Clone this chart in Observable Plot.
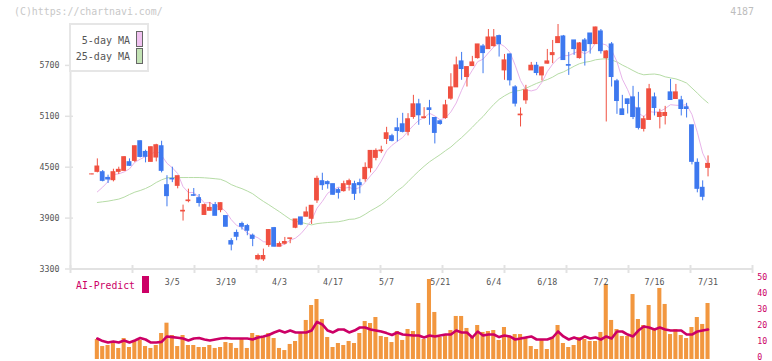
<!DOCTYPE html>
<html>
<head>
<meta charset="utf-8">
<script src="https://cdn.jsdelivr.net/npm/d3@7"></script>
<script src="https://cdn.jsdelivr.net/npm/@observablehq/plot@0.6"></script>
<style>
  body { margin: 0; background: #fff; }
  #wrap { position: relative; width: 772px; height: 361px; overflow: hidden; font-family: "DejaVu Sans Mono", monospace; }
  #wrap svg { position: absolute; left: 0; top: 0; background: transparent; }
  .lbl { position: absolute; white-space: nowrap; line-height: 12px; }
  .sw { position: absolute; box-sizing: border-box; }
</style>
</head>
<body>
<div id="wrap">
  <div class="lbl" style="left:14px;top:6px;font-size:9.9px;color:#c8c8c8;">(C)https://chartnavi.com/</div>
  <div class="lbl" style="right:18px;top:6px;font-size:9.9px;color:#bdbdbd;">4187</div>
  <div class="sw" style="left:69px;top:23px;width:80px;height:49px;border:2px solid #e6e6e6;background:#fff;"></div>
  <div class="lbl" style="right:642px;top:35px;font-size:10px;color:#555;">5-day MA</div>
  <div class="lbl" style="right:642px;top:51px;font-size:10px;color:#555;">25-day MA</div>
  <div class="sw" style="left:136px;top:31px;width:7px;height:16px;border:1px solid #666;background:#f0c2f0;"></div>
  <div class="sw" style="left:136px;top:48px;width:7px;height:16px;border:1px solid #666;background:#c3e3b5;"></div>
  <div class="lbl" style="left:76px;top:280px;font-size:9.8px;color:#cc0066;">AI-Predict</div>
  <div class="sw" style="left:142px;top:276px;width:7px;height:17px;background:#cc0066;"></div>
</div>
<script>
// Daily candles (oldest first)
const open = [4415,4445,4441,4374,4347,4445,4457,4559,4574,4806,4680,4563,4614,4747,4288,4362,4280,3978,4100,4170,4135,3937,3986,4053,3994,3924,3629,3725,3831,3806,3692,3414,3414,3582,3782,3563,3598,3655,3786,3908,3916,3892,4108,4335,4324,4300,4230,4218,4292,4300,4312,4359,4488,4610,4688,4833,4865,4959,5006,4916,5092,5241,5080,5194,5080,5041,5080,5308,5441,5747,5563,5692,5786,5923,5892,5927,6045,5641,5829,5441,5112,5288,5641,5696,5582,5720,5821,5963,6041,5704,5994,5786,5994,6076,5951,6100,5786,5947,5512,5182,5300,5323,5194,4951,5057,5323,5092,5104,5382,5304,5288,5206,4994,4551,4257,4492];
const high = [4420,4598,4461,4406,4476,4500,4625,4598,4750,4810,4700,4740,4770,4806,4400,4500,4394,4053,4241,4249,4178,4065,4084,4084,4080,3930,3657,3759,3853,3826,3712,3476,3535,3765,3790,3618,3672,3661,3884,3908,4029,4045,4394,4429,4339,4300,4253,4335,4359,4335,4359,4551,4692,4716,4747,4970,4888,5076,5135,5131,5347,5300,5202,5288,5084,5053,5288,5602,5798,5853,5680,5806,5947,5947,6123,6123,6057,5829,5833,5461,5198,5465,5735,5735,5680,5888,5994,6182,6053,5853,5994,5970,6017,6076,6150,6123,5876,5970,5535,5347,5300,5453,5382,5100,5476,5374,5182,5217,5535,5476,5335,5253,4994,4598,4339,4633];
const low = [4410,4433,4327,4308,4327,4414,4450,4510,4555,4610,4551,4560,4563,4433,4033,4318,4245,3865,4080,4155,4030,3937,3986,3927,3963,3795,3514,3633,3759,3692,3563,3398,3390,3555,3560,3563,3582,3598,3775,3810,3916,3825,4073,4226,4241,4170,4124,4206,4218,4108,4186,4324,4433,4575,4661,4767,4798,4798,4904,4869,5065,4994,5065,4994,4774,4994,5065,5288,5441,5524,5445,5692,5774,5602,5892,5916,5798,5524,5457,5210,4974,5241,5641,5578,5516,5716,5720,5963,5759,5582,5818,5774,5692,5833,5951,5833,5033,5445,5123,5115,5127,5061,4939,4915,5057,5104,4951,4998,5292,5300,5104,5080,4527,4198,4104,4386];
const close = [4415,4508,4339,4355,4441,4469,4618,4516,4747,4621,4622,4735,4759,4457,4159,4356,4394,3986,4108,4163,4078,4053,4020,3927,4076,3798,3588,3680,3798,3751,3655,3453,3453,3759,3563,3594,3618,3661,3884,3822,3967,4045,4363,4288,4300,4175,4198,4300,4335,4186,4288,4492,4692,4692,4696,4900,4810,4927,4916,5065,5241,5112,5088,5174,4904,5010,5229,5441,5700,5657,5680,5735,5947,5845,6029,6029,5951,5759,5524,5249,5120,5406,5696,5610,5676,5747,5845,6033,5763,5696,5892,5959,5868,5951,6147,5868,5864,5563,5280,5115,5245,5092,4963,5065,5418,5198,5139,5139,5292,5382,5186,5186,4563,4245,4151,4539];

// Moving averages
const ma5 = [null,4209,4265,4330,4412,4422,4444,4480,4558,4594,4625,4648,4697,4639,4546,4493,4425,4270,4201,4201,4146,4078,4084,4048,4031,3975,3882,3814,3788,3723,3694,3667,3622,3614,3577,3564,3597,3639,3664,3716,3790,3876,4016,4097,4193,4234,4265,4252,4262,4239,4261,4320,4399,4470,4572,4694,4758,4805,4850,4924,4992,5052,5084,5136,5104,5058,5081,5152,5257,5407,5541,5643,5744,5773,5847,5917,5960,5923,5858,5702,5521,5412,5399,5416,5502,5627,5715,5782,5813,5817,5846,5869,5836,5873,5963,5959,5940,5879,5744,5538,5413,5259,5139,5096,5156,5147,5156,5191,5237,5230,5228,5237,5121,4912,4666,4536];
const ma25 = [null,4084,4092,4100,4112,4124,4147,4178,4206,4225,4249,4280,4320,4351,4374,4378,4378,4378,4378,4378,4378,4375,4370,4364,4357,4332,4295,4269,4247,4219,4187,4140,4097,4058,4016,3975,3930,3886,3863,3850,3834,3820,3835,3842,3848,3852,3857,3869,3885,3889,3909,3945,3986,4021,4059,4109,4163,4222,4268,4329,4394,4454,4511,4563,4606,4648,4695,4738,4795,4849,4909,4971,5037,5097,5171,5240,5299,5341,5375,5397,5406,5430,5460,5488,5512,5533,5562,5600,5623,5655,5690,5720,5737,5747,5766,5774,5779,5764,5741,5704,5673,5639,5607,5589,5595,5598,5588,5565,5553,5541,5519,5492,5433,5373,5311,5257];

// Lower panel: bars and AI-Predict line (0-50 scale)
const volume = [null,12.5,8.1,8.75,10,6.9,13.1,7.5,11.25,11.9,8.1,6.9,8.75,16.25,22.7,15,8.1,15,8.75,8.75,7.5,7.5,8.75,6.9,7.5,10.6,10,6.9,12.5,6.9,16.25,15,14.4,16.25,13.1,6.9,5.6,9.4,11.25,16.25,24.4,33.75,37.5,25,13.75,7.5,10,8.75,11.25,10,16.25,23.75,22.5,26.25,14.4,13.75,10.6,17.5,11.9,18.75,17.5,35,12.5,50,29.4,13.75,15,18.1,26.9,26.9,19.4,14.4,21.25,16.9,17.5,18.1,11.9,20,13.75,15.6,15.6,13.1,8.1,6.25,11.9,6.25,13.75,21.25,10,7.5,8.75,13.75,12.5,11.25,11.25,16.9,46.9,24.4,18.75,14.4,14.4,40.6,25,21.25,33.75,18.75,44.4,34.4,15.6,18.75,15,13.1,20,26.25,21.9,35];
const aiPredict = [null,13.1,11.5,10.6,11.2,10.6,11.9,10.6,11.9,13.4,12.5,10.6,10.6,11,14.4,14,13.6,13.1,11.9,13.1,13.4,12.5,11.9,12.5,13.1,13.4,13.1,13.1,13.1,13.1,12.5,13.8,14.4,15.3,16.9,18.1,16.9,18.1,16.9,16.9,16.9,18.1,23.5,21.9,18.1,16.9,18.75,18.75,16.9,18.1,20,20,18.75,18.1,17.5,16.5,15.3,16.9,15.6,15.3,15,15,13.75,15,14.4,15,15.6,15.6,18.1,16.9,16.9,13.75,17.5,15,15.6,15.6,14,15,14.4,12.5,13.1,13.75,14.4,12.5,12.5,12.5,13.75,17.5,14.4,12.5,13.75,12.5,14.4,13.1,13.75,12.5,14.4,13.1,17.5,17.5,15.6,14.4,18.1,20.6,20,18.75,20,18.75,18.1,18.1,18.1,15.6,15.6,17.5,18.1,18.75];

// Axis labels
const priceTicks = [3300, 3900, 4500, 5100, 5700];
const volumeTicks = [0, 10, 20, 30, 40, 50];
const dateLabels = ["3/5","3/19","4/3","4/17","5/7","5/21","6/4","6/18","7/2","7/16","7/31"];
const dateLabelIdx = [15, 25, 35, 45, 55, 65, 75, 85, 95, 105, 115];

const UP = "#f05040", DOWN = "#3d78ef";
const days = d3.range(close.length).map(i => ({
  i, o: open[i], h: high[i], l: low[i], c: close[i],
  ma5: ma5[i], ma25: ma25[i], vol: volume[i], ai: aiPredict[i]
}));
const upDays = days.filter(d => d.c >= d.o);
const downDays = days.filter(d => d.c < d.o);

const xDomain = [-4.01, 123.3];
const yLo = 3300, yHi = 6182;
// frame divisions along the date axis
const frameTicks = d3.range(12).map(j => xDomain[0] + j * (xDomain[1] - xDomain[0]) / 11);
const grid = "#e2e2e2";

const main = Plot.plot({
  width: 772, height: 361,
  marginLeft: 70, marginRight: 20, marginTop: 24, marginBottom: 92.5,
  x: {domain: xDomain, axis: null},
  y: {domain: [yLo, yHi], axis: null},
  style: {background: "transparent", fontFamily: "DejaVu Sans Mono, monospace", fontSize: "8.3px"},
  marks: [
    Plot.ruleX([xDomain[0]], {stroke: grid, strokeWidth: 2}),
    Plot.ruleY([yLo], {stroke: grid, strokeWidth: 2}),
    Plot.ruleY(priceTicks, {x1: xDomain[0], x2: xDomain[0], insetLeft: -5, insetRight: -3, stroke: grid, strokeWidth: 1.5}),
    Plot.ruleX(frameTicks, {y1: yLo, y2: yLo, insetTop: -3.5, insetBottom: -4.5, stroke: grid, strokeWidth: 2}),
    Plot.axisY({ticks: priceTicks, tickFormat: d => String(d), tickSize: 0, tickPadding: 11, fill: "#555", label: null}),
    Plot.axisX({ticks: dateLabelIdx, tickFormat: d => dateLabels[dateLabelIdx.indexOf(d)], tickSize: 0, tickPadding: 10.5, fill: "#555", label: null}),
    Plot.line(days, {x: "i", y: "ma25", stroke: "#b6dca6", strokeWidth: 1}),
    Plot.line(days, {x: "i", y: "ma5", stroke: "#e8b4ea", strokeWidth: 1}),
    Plot.ruleX(upDays, {x: "i", y1: "l", y2: "h", stroke: UP, strokeWidth: 1}),
    Plot.ruleX(downDays, {x: "i", y1: "l", y2: "h", stroke: DOWN, strokeWidth: 1}),
    Plot.rect(upDays, {x1: d => d.i - 0.45, x2: d => d.i + 0.45, y1: "o", y2: "c", fill: UP, insetTop: -0.5, insetBottom: -0.5}),
    Plot.rect(downDays, {x1: d => d.i - 0.45, x2: d => d.i + 0.45, y1: "o", y2: "c", fill: DOWN, insetTop: -0.5, insetBottom: -0.5})
  ]
});

const sub = days.filter(d => d.vol != null);
const lower = Plot.plot({
  width: 772, height: 361,
  marginLeft: 70, marginRight: 20, marginTop: 279, marginBottom: 2,
  x: {domain: xDomain, axis: null},
  y: {domain: [0, 50], axis: null},
  style: {background: "transparent", fontFamily: "DejaVu Sans Mono, monospace", fontSize: "8.3px"},
  marks: [
    Plot.rect(sub, {x1: d => d.i - 0.38, x2: d => d.i + 0.38, y1: 0, y2: "vol", fill: "#f2973f"}),
    Plot.line(sub, {x: "i", y: "ai", stroke: "#cc0066", strokeWidth: 2.6}),
    Plot.axisY({anchor: "right", ticks: volumeTicks, tickSize: 0, tickPadding: 4.7, dy: -2, fill: "#cc0066", label: null})
  ]
});

const wrap = document.getElementById("wrap");
wrap.insertBefore(lower, wrap.firstChild);
wrap.insertBefore(main, lower.nextSibling);
</script>
</body>
</html>
